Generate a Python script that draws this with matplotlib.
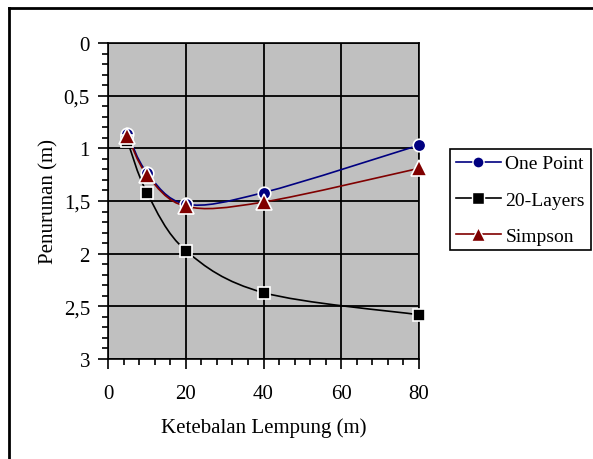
import matplotlib
matplotlib.use('Agg')
from matplotlib import pyplot as plt
from matplotlib.path import Path
from matplotlib.patches import PathPatch
from matplotlib.lines import Line2D
from matplotlib.ticker import MultipleLocator, FuncFormatter
import numpy as np

# data
thickness = [5, 10, 20, 40, 80]
one_point = [0.86, 1.23, 1.53, 1.42, 0.97]
layers_20 = [0.93, 1.42, 1.97, 2.37, 2.58]
simpson = [0.88, 1.25, 1.55, 1.51, 1.19]

plt.rcParams['font.family'] = ['Liberation Serif', 'DejaVu Serif']
plt.rcParams['font.size'] = 14


def smooth_path(x, y):
    # Excel-like smoothed line: cubic bezier through the points
    p = np.column_stack([x, y]).astype(float)
    n = len(p)
    verts = [p[0]]
    codes = [Path.MOVETO]
    for i in range(n - 1):
        prev = p[i - 1] if i > 0 else p[i]
        nxt = p[i + 2] if i + 2 < n else p[i + 1]
        c1 = p[i] + (p[i + 1] - prev) / 6
        c2 = p[i + 1] - (nxt - p[i]) / 6
        verts += [c1, c2, p[i + 1]]
        codes += [Path.CURVE4] * 3
    return Path(verts, codes)


fig = plt.figure(figsize=(5.93, 4.6), dpi=100)
ax = fig.add_axes([108 / 593, 1 - 360 / 460, 311 / 593, 316 / 460])
ax.set_facecolor('#C0C0C0')

series = [
    (one_point, '#000080', 'o', 9, 'One Point'),
    (layers_20, 'black', 's', 9, '20-Layers'),
    (simpson, '#800000', '^', 11, 'Simpson'),
]
handles = []
for vals, col, mk, ms, lab in series:
    ax.add_patch(PathPatch(smooth_path(thickness, vals), facecolor='none',
                           edgecolor=col, lw=1.2, zorder=3))
    ax.plot(thickness, vals, linestyle='none', marker=mk, ms=ms, color=col,
            markeredgecolor='white', markeredgewidth=1.2, zorder=4, clip_on=False)
    handles.append(Line2D([], [], color=col, lw=1.2, marker=mk, ms=ms - 1,
                          markeredgecolor='white', markeredgewidth=1, label=lab))

ax.set_xlim(0, 80)
ax.set_ylim(3, 0)
ax.xaxis.set_major_locator(MultipleLocator(20))
ax.xaxis.set_minor_locator(MultipleLocator(4))
ax.yaxis.set_major_locator(MultipleLocator(0.5))
ax.yaxis.set_minor_locator(MultipleLocator(0.1))
ax.yaxis.set_major_formatter(FuncFormatter(lambda v, p: ('%g' % v).replace('.', ',')))
ax.grid(True, which='major', color='black', lw=1.3)
ax.set_axisbelow(True)
ax.tick_params(which='major', direction='out', length=7, width=1.2, pad=6,
               color='black', labelsize=15)
ax.tick_params(which='minor', direction='out', length=4, width=1.2, color='black')
ax.tick_params(axis='x', pad=11)
for s in ax.spines.values():
    s.set_linewidth(1.2)
    s.set_color('black')

ax.set_xlabel('Ketebalan Lempung (m)', fontsize=15, labelpad=10)
ax.set_ylabel('Penurunan (m)', fontsize=15, labelpad=4)

leg = fig.legend(handles=handles, loc='upper left', fontsize=14,
                 bbox_to_anchor=(450 / 593, 1 - 150 / 460), fancybox=False,
                 edgecolor='black', framealpha=1, handlelength=2.3,
                 borderaxespad=0, borderpad=0.3, labelspacing=0.95, handletextpad=0.25)
leg.get_frame().set_linewidth(1.2)

# outer chart frame
fig.add_artist(Line2D([9 / 593, 9 / 593], [0, 1 - 9 / 460], color='black', lw=2))
fig.add_artist(Line2D([9 / 593, 1], [1 - 9 / 460, 1 - 9 / 460], color='black', lw=2))

fig.savefig('out.png', dpi=100)
